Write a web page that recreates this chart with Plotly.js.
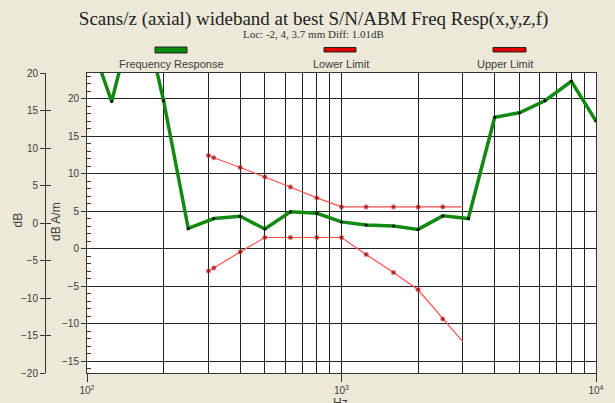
<!DOCTYPE html>
<html>
<head>
<meta charset="utf-8">
<script src="https://cdn.plot.ly/plotly-3.0.1.min.js"></script>
<style>html,body{margin:0;padding:0;background:#ECE9D8;}#chart{width:615px;height:403px;}</style>
</head>
<body>
<div id="chart"></div>
<script>
// ---- data ----
const respFreq = [100,125,160,200,250,315,400,500,630,800,1000,1250,1600,2000,2500,3150,4000,5000,6300,8000,10000];
const respDb   = [29,19.6,34,19.7,2.67,4.0,4.3,2.6,4.9,4.7,3.55,3.15,3.0,2.55,4.35,4.0,17.5,18.1,19.7,22.3,17.0];
const limFreq  = [300,315,400,500,630,800,1000,1250,1600,2000,2500,3000];
const upperDb  = [12.4,12.1,10.8,9.55,8.2,6.75,5.55,5.55,5.55,5.55,5.55,5.55];
const lowerDb  = [-3.0,-2.6,-0.45,1.47,1.47,1.47,1.47,-0.8,-3.2,-5.5,-9.4,-12.45];
const xTickVals = [100,1000,10000];
const xTickText = ['10<sup>2</sup>','10<sup>3</sup>','10<sup>4</sup>'];
const xMinorVals = [200,300,400,500,600,700,800,900,2000,3000,4000,5000,6000,7000,8000,9000];
const seriesNames = ['Frequency Response','Lower Limit','Upper Limit'];
const axisTitles = {x: 'Hz', yInner: 'dB A/m', yOuter: 'dB'};

// ---- geometry helpers ----
const H = 403, L = 10, R = 19, T = 73, B = 30;
const PW = 615 - L - R, PH = H - T - B;
const px2x = p => (p - L) / PW;
const px2y = p => (H - B - p) / PH;

const red = '#ff5050', green = '#128a12', grid = '#222222', txt = '#3c3c3c';
const limMarkerSize = limFreq.map((f, i) => i === limFreq.length - 1 ? 0 : 4.5);

const traces = [
  {x: respFreq, y: respDb, mode: 'lines+markers', name: seriesNames[0],
   line: {color: green, width: 3.5}, marker: {color: '#000', size: 3}, hoverinfo: 'x+y'},
  {x: limFreq, y: upperDb, mode: 'lines+markers', name: seriesNames[2],
   line: {color: red, width: 1.2}, marker: {color: '#700', size: limMarkerSize, line: {color: red, width: 0.8}}},
  {x: limFreq, y: lowerDb, mode: 'lines+markers', name: seriesNames[1],
   line: {color: red, width: 1.2}, marker: {color: '#700', size: limMarkerSize, line: {color: red, width: 0.8}}},
  {x: [null], y: [null], yaxis: 'y2', mode: 'lines', showlegend: false, hoverinfo: 'skip'},
  {x: [null], y: [null], yaxis: 'y3', mode: 'lines', showlegend: false, hoverinfo: 'skip'}
];

const sans = 'Liberation Sans, Arial, sans-serif';
const tickFont = {family: sans, size: 10, color: txt};
const titleFont = {family: sans, size: 12, color: txt};
const layout = {
  width: 615, height: 403,
  paper_bgcolor: '#ECE9D8', plot_bgcolor: '#ffffff',
  margin: {l: L, r: R, t: T, b: B, pad: 0},
  showlegend: false,
  title: {text: 'Scans/z (axial) wideband at best S/N/ABM Freq Resp(x,y,z,f)',
          font: {family: 'Liberation Serif, Times New Roman, serif', size: 19, color: '#222'},
          x: 313.6/615, xref: 'container', xanchor: 'center',
          y: 1 - 18.5/403, yref: 'container', yanchor: 'middle'},
  xaxis: {type: 'log', range: [2, 4], domain: [px2x(87), 1],
          tickmode: 'array', tickvals: xTickVals, ticktext: xTickText,
          ticks: 'outside', ticklen: 8, tickcolor: '#333', tickfont: tickFont,
          showgrid: true, gridcolor: grid, gridwidth: 1,
          showline: true, linecolor: '#333', linewidth: 1, mirror: true,
          zeroline: false,
          minor: {tickmode: 'array', tickvals: xMinorVals, showgrid: true, gridcolor: grid, gridwidth: 1, ticks: ''}},
  yaxis: {range: [-16.6, 23.4], tick0: 0, dtick: 5,
          ticks: 'outside', ticklen: 5, tickcolor: '#333', tickfont: tickFont,
          showgrid: true, gridcolor: grid, gridwidth: 1, zeroline: false,
          showline: true, linecolor: '#333', linewidth: 1, mirror: true,
          minor: {dtick: 1, ticks: 'inside', ticklen: 4, tickcolor: '#333', showgrid: false}},
  yaxis2: {range: [-20, 20], dtick: 5, tick0: 0, overlaying: 'y', anchor: 'free', position: px2x(45), side: 'left',
           ticks: 'outside', ticklen: 5, tickcolor: '#333', tickfont: tickFont,
           showgrid: false, zeroline: false, showline: true, linecolor: '#333', linewidth: 1},
  yaxis3: {range: [-20, 20], dtick: 5, tick0: 0, overlaying: 'y', anchor: 'free', position: px2x(45), side: 'left',
           ticks: 'inside', ticklen: 5, tickcolor: '#333', showticklabels: false,
           showgrid: false, zeroline: false, showline: false},
  shapes: [
    {type: 'rect', xref: 'paper', yref: 'paper', x0: px2x(155), x1: px2x(187), y0: px2y(53), y1: px2y(47),
     fillcolor: '#0a8a0a', line: {color: '#222', width: 1}},
    {type: 'rect', xref: 'paper', yref: 'paper', x0: px2x(324), x1: px2x(356), y0: px2y(52), y1: px2y(47.5),
     fillcolor: '#e00000', line: {color: '#222', width: 1}},
    {type: 'rect', xref: 'paper', yref: 'paper', x0: px2x(493), x1: px2x(526), y0: px2y(52), y1: px2y(47.5),
     fillcolor: '#e00000', line: {color: '#222', width: 1}}
  ],
  annotations: [
    {text: 'Loc: -2, 4, 3.7 mm Diff: 1.01dB', xref: 'paper', yref: 'paper', x: px2x(313), y: px2y(34),
     showarrow: false, xanchor: 'center', yanchor: 'middle',
     font: {family: 'Liberation Serif, Times New Roman, serif', size: 11, color: '#333'}},
    {text: seriesNames[0], xref: 'paper', yref: 'paper', x: px2x(171), y: px2y(64), showarrow: false,
     xanchor: 'center', yanchor: 'middle', font: {family: sans, size: 11, color: txt}},
    {text: seriesNames[1], xref: 'paper', yref: 'paper', x: px2x(341), y: px2y(64), showarrow: false,
     xanchor: 'center', yanchor: 'middle', font: {family: sans, size: 11, color: txt}},
    {text: seriesNames[2], xref: 'paper', yref: 'paper', x: px2x(505), y: px2y(64), showarrow: false,
     xanchor: 'center', yanchor: 'middle', font: {family: sans, size: 11, color: txt}},
    {text: axisTitles.x, xref: 'paper', yref: 'paper', x: px2x(340), y: px2y(394), showarrow: false,
     xanchor: 'center', yanchor: 'top', font: titleFont},
    {text: axisTitles.yInner, xref: 'paper', yref: 'paper', x: px2x(56), y: px2y(222), showarrow: false,
     textangle: -90, xanchor: 'center', yanchor: 'middle', font: titleFont},
    {text: axisTitles.yOuter, xref: 'paper', yref: 'paper', x: px2x(17), y: px2y(220.5), showarrow: false,
     textangle: -90, xanchor: 'center', yanchor: 'middle', font: titleFont}
  ]
};

Plotly.newPlot('chart', traces, layout, {displayModeBar: false, staticPlot: true});
</script>
</body>
</html>
